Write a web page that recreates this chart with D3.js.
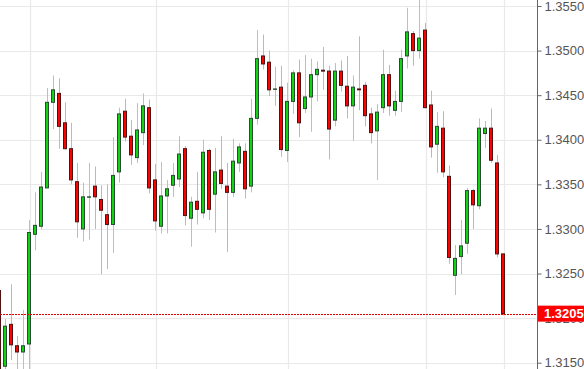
<!DOCTYPE html>
<html>
<head>
<meta charset="utf-8">
<script src="https://cdn.jsdelivr.net/npm/d3@7"></script>
<style>
  body { margin: 0; background: #fff; }
  svg { display: block; }
</style>
</head>
<body>
<div id="chart"></div>
<script>
(function() {
    // Candle values (oldest first, first one is cut at the left edge)
    var opens  = [1.3231, 1.3146, 1.3193, 1.3169, 1.3162, 1.3171, 1.3294, 1.3303, 1.3346, 1.3442, 1.3452,
                  1.3419, 1.3390, 1.3353, 1.3300, 1.3336, 1.3348, 1.3333, 1.3316, 1.3305, 1.3364,
                  1.3432, 1.3404, 1.3380, 1.3408, 1.3436, 1.3355, 1.3303, 1.3337, 1.3349, 1.3356,
                  1.3390, 1.3312, 1.3331, 1.3318, 1.3388, 1.3339, 1.3366, 1.3348, 1.3341, 1.3374,
                  1.3387, 1.3348, 1.3424, 1.3494, 1.3487, 1.3457, 1.3459, 1.3388, 1.3443, 1.3475,
                  1.3435, 1.3448, 1.3473, 1.3478, 1.3477, 1.3422, 1.3477, 1.3460, 1.3438, 1.3457,
                  1.3461, 1.3429, 1.3410, 1.3436, 1.3473, 1.3433, 1.3443, 1.3494, 1.3519, 1.3500,
                  1.3523, 1.3439, 1.3395, 1.3413, 1.3359, 1.3248, 1.3269, 1.3284, 1.3343, 1.3326,
                  1.3407, 1.3413, 1.3374, 1.3272];
    var highs  = [1.3232, 1.3199, 1.3238, 1.3180, 1.3209, 1.3310, 1.3341, 1.3364, 1.3458, 1.3472, 1.3469,
                  1.3442, 1.3419, 1.3374, 1.3352, 1.3374, 1.3370, 1.3349, 1.3350, 1.3403, 1.3436,
                  1.3446, 1.3422, 1.3441, 1.3452, 1.3445, 1.3373, 1.3375, 1.3355, 1.3374, 1.3404,
                  1.3393, 1.3336, 1.3364, 1.3400, 1.3390, 1.3391, 1.3404, 1.3374, 1.3401, 1.3396,
                  1.3396, 1.3446, 1.3523, 1.3518, 1.3500, 1.3482, 1.3483, 1.3464, 1.3478, 1.3490,
                  1.3495, 1.3491, 1.3488, 1.3504, 1.3483, 1.3486, 1.3489, 1.3494, 1.3472, 1.3516,
                  1.3465, 1.3436, 1.3440, 1.3501, 1.3484, 1.3455, 1.3501, 1.3548, 1.3522, 1.3557,
                  1.3531, 1.3455, 1.3431, 1.3432, 1.3371, 1.3282, 1.3310, 1.3346, 1.3345, 1.3424,
                  1.3421, 1.3435, 1.3383, 1.3272];
    var lows   = [1.3120, 1.3135, 1.3153, 1.3138, 1.3138, 1.3140, 1.3276, 1.3300, 1.3346, 1.3412, 1.3390,
                  1.3389, 1.3350, 1.3290, 1.3286, 1.3288, 1.3300, 1.3249, 1.3255, 1.3273, 1.3352,
                  1.3398, 1.3372, 1.3374, 1.3394, 1.3340, 1.3298, 1.3295, 1.3295, 1.3336, 1.3347,
                  1.3304, 1.3280, 1.3305, 1.3312, 1.3310, 1.3296, 1.3345, 1.3274, 1.3336, 1.3364,
                  1.3334, 1.3341, 1.3417, 1.3479, 1.3449, 1.3438, 1.3381, 1.3375, 1.3429, 1.3403,
                  1.3430, 1.3409, 1.3443, 1.3456, 1.3378, 1.3415, 1.3454, 1.3424, 1.3399, 1.3433,
                  1.3415, 1.3396, 1.3355, 1.3430, 1.3427, 1.3427, 1.3431, 1.3480, 1.3483, 1.3491,
                  1.3435, 1.3380, 1.3363, 1.3358, 1.3261, 1.3226, 1.3249, 1.3272, 1.3300, 1.3322,
                  1.3391, 1.3374, 1.3268, 1.3203];
    var closes = [1.3130, 1.3191, 1.3170, 1.3162, 1.3169, 1.3296, 1.3304, 1.3347, 1.3442, 1.3456, 1.3415,
                  1.3390, 1.3355, 1.3308, 1.3336, 1.3336, 1.3336, 1.3321, 1.3305, 1.3360, 1.3429,
                  1.3403, 1.3383, 1.3411, 1.3438, 1.3346, 1.3309, 1.3337, 1.3345, 1.3360, 1.3384,
                  1.3315, 1.3330, 1.3322, 1.3386, 1.3322, 1.3364, 1.3351, 1.3341, 1.3376, 1.3392,
                  1.3345, 1.3424, 1.3491, 1.3485, 1.3456, 1.3457, 1.3389, 1.3443, 1.3475, 1.3419,
                  1.3448, 1.3473, 1.3479, 1.3477, 1.3412, 1.3477, 1.3461, 1.3438, 1.3459, 1.3456,
                  1.3427, 1.3408, 1.3431, 1.3473, 1.3438, 1.3443, 1.3491, 1.3521, 1.3500, 1.3514,
                  1.3436, 1.3392, 1.3415, 1.3364, 1.3268, 1.3267, 1.3281, 1.3343, 1.3327, 1.3413,
                  1.3413, 1.3377, 1.3272, 1.3205];

    // price axis ticks and candle positions of the vertical grid lines
    var priceTicks = [1.3150, 1.3200, 1.3250, 1.3300, 1.3350, 1.3400, 1.3450, 1.3500, 1.3550];
    var gridCandles = [5, 26, 48, 71, 84];
    var lastPrice = 1.3205;

    var width = 584, height = 369;
    var axisX = 537;

    var candles = opens.map(function(o, i) {
        return { i: i, open: o, high: highs[i], low: lows[i], close: closes[i] };
    });

    var svg = d3.select('#chart')
        .append('svg')
        .attr('width', width)
        .attr('height', height)
        .style('font-family', '"Liberation Sans", Arial, sans-serif');

    var x = d3.scaleLinear()
        .domain([0, candles.length - 1])
        .range([-1, 503]);

    var y = d3.scaleLinear()
        .domain([1.3150, 1.3550])
        .range([362.7, 6]);

    // grid
    svg.append('g')
        .selectAll('line')
        .data(priceTicks)
        .enter()
        .append('line')
        .attr('x1', 0)
        .attr('x2', axisX)
        .attr('y1', d => Math.round(y(d)) + 0.5)
        .attr('y2', d => Math.round(y(d)) + 0.5)
        .attr('stroke', '#e9e9e9')
        .attr('stroke-width', 1.2);

    // vertical grid sits just right of its candle
    svg.append('g')
        .selectAll('line')
        .data(gridCandles)
        .enter()
        .append('line')
        .attr('x1', d => Math.floor(x(d) + 1.5) + 0.5)
        .attr('x2', d => Math.floor(x(d) + 1.5) + 0.5)
        .attr('y1', 0)
        .attr('y2', height)
        .attr('stroke', '#e9e9e9')
        .attr('stroke-width', 1.2);

    // candles
    var g = svg.append('g');
    var up = d => d.close >= d.open;

    g.selectAll('line.wick')
        .data(candles)
        .enter()
        .append('line')
        .attr('class', 'wick')
        .attr('x1', d => x(d.i) + 0.5)
        .attr('x2', d => x(d.i) + 0.5)
        .attr('y1', d => y(d.high))
        .attr('y2', d => y(d.low))
        .attr('stroke', d => up(d) ? '#a9c6ca' : '#eca3ad')
        .attr('stroke-width', 1);

    g.selectAll('rect.body')
        .data(candles)
        .enter()
        .append('rect')
        .attr('class', 'body')
        .attr('x', d => x(d.i) - 1.5)
        .attr('width', 3)
        .attr('y', d => y(Math.max(d.open, d.close)))
        .attr('height', d => Math.max(0.4, Math.abs(y(d.open) - y(d.close))))
        .attr('fill', d => up(d) ? '#0fd40f' : '#ff0000')
        .attr('stroke', d => up(d) ? '#2a4a34' : '#4e1212')
        .attr('stroke-width', 1);

    // last price line
    svg.append('line')
        .attr('x1', 0)
        .attr('x2', axisX)
        .attr('y1', Math.round(y(lastPrice)) + 0.5)
        .attr('y2', Math.round(y(lastPrice)) + 0.5)
        .attr('stroke', '#e00000')
        .attr('stroke-width', 1)
        .attr('stroke-dasharray', '2,1');

    // price axis on the right
    svg.append('rect')
        .attr('x', axisX)
        .attr('y', 0)
        .attr('width', width - axisX)
        .attr('height', height)
        .attr('fill', '#fff');

    var axis = svg.append('g')
        .attr('transform', `translate(${axisX + 0.5}, 0)`)
        .call(d3.axisRight(y)
            .tickValues(priceTicks)
            .tickFormat(d3.format('.4f'))
            .tickSize(4)
            .tickSizeOuter(0)
            .tickPadding(3));
    axis.select('.domain').remove();
    axis.selectAll('line').attr('stroke', '#666');
    axis.selectAll('text')
        .attr('fill', '#555')
        .style('font-size', '13px')
        .style('font-family', '"Liberation Sans", Arial, sans-serif');

    svg.append('line')
        .attr('x1', axisX + 0.5)
        .attr('x2', axisX + 0.5)
        .attr('y1', 0)
        .attr('y2', height)
        .attr('stroke', '#666')
        .attr('stroke-width', 1);

    // last price tag
    svg.append('rect')
        .attr('x', axisX + 1)
        .attr('y', y(lastPrice) - 8)
        .attr('width', width - axisX - 1)
        .attr('height', 16)
        .attr('fill', '#ff0000');

    svg.append('text')
        .attr('x', axisX + 7)
        .attr('y', y(lastPrice))
        .attr('dy', '0.35em')
        .attr('fill', '#fff')
        .style('font-size', '13px')
        .style('font-weight', 'bold')
        .text(d3.format('.4f')(lastPrice));
})();
</script>
</body>
</html>
